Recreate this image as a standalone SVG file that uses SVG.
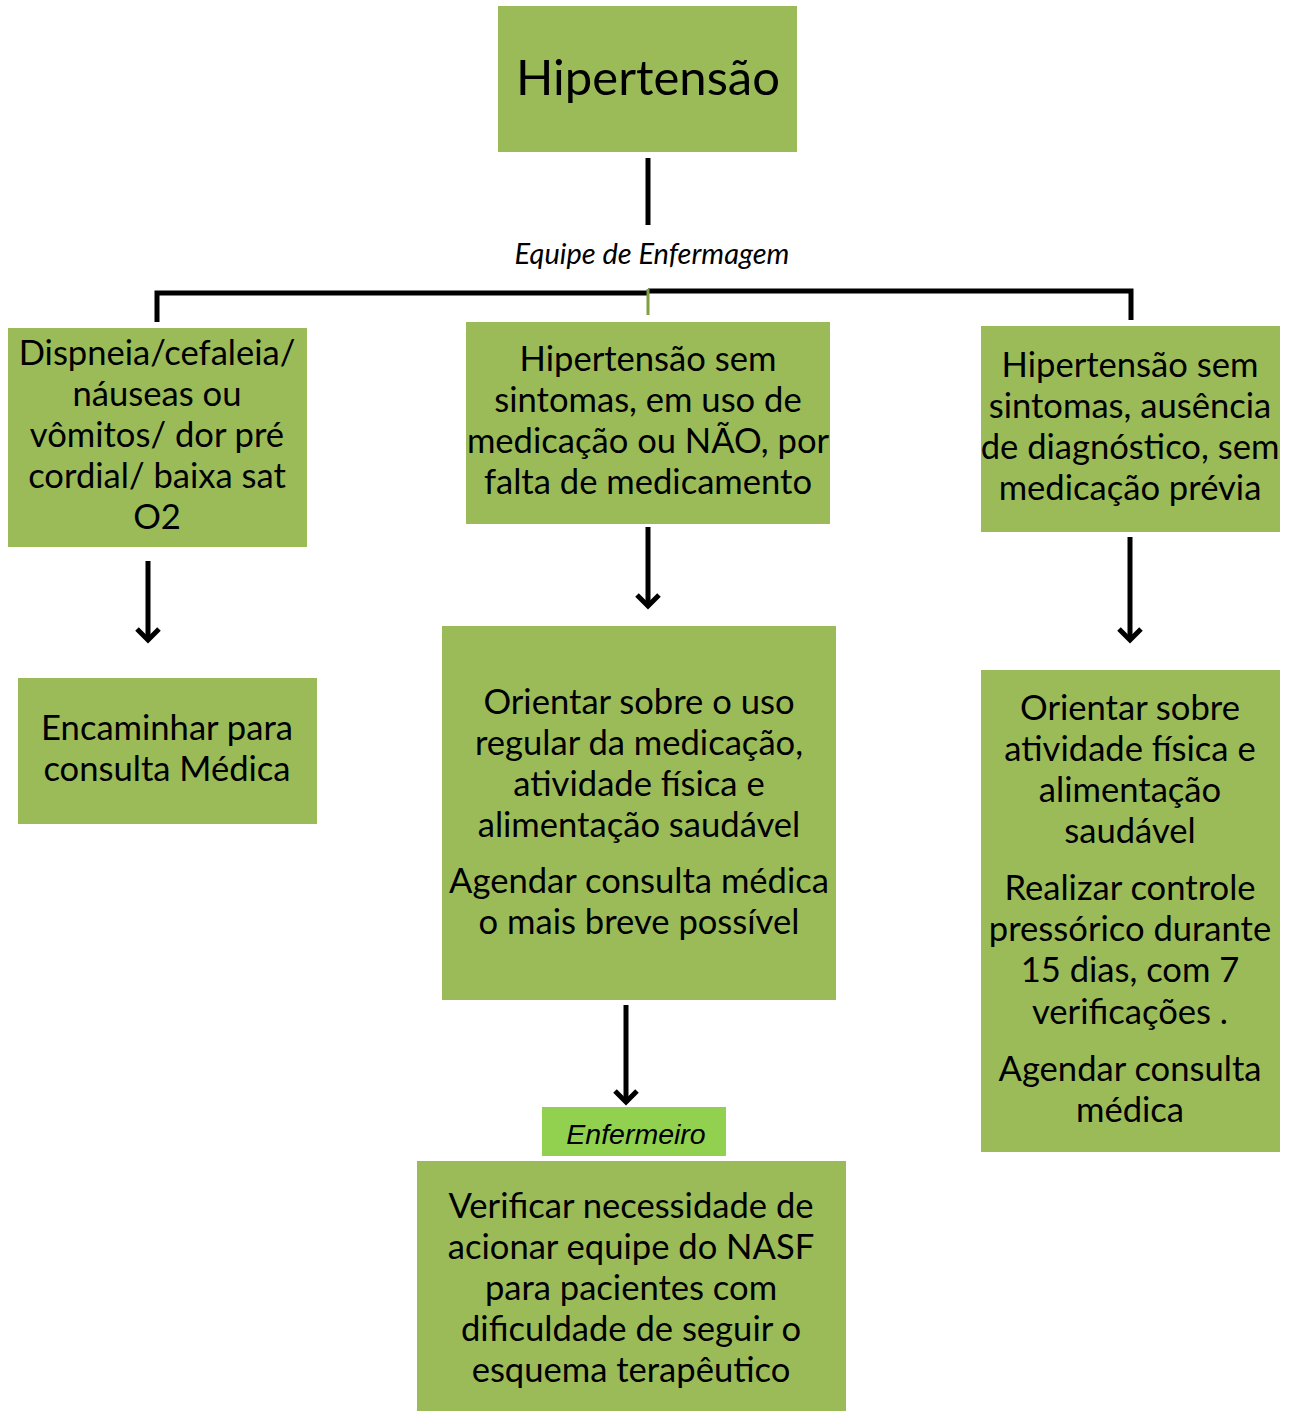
<svg xmlns="http://www.w3.org/2000/svg" width="1293" height="1411" viewBox="0 0 1293 1411">
<style>
.box{fill:#9BBB59}
.t{font-family:Lato,"Noto Sans",sans-serif;font-size:34.6px;fill:#000;text-anchor:middle}
.c{stroke:#000;stroke-width:5;fill:none}
</style>
<defs>
<marker id="a" viewBox="-14 -14 28 28" refX="0" refY="0" markerWidth="28" markerHeight="28" markerUnits="userSpaceOnUse" orient="0">
<path d="M-11,-11 L0,0 L11,-11" fill="none" stroke="#000" stroke-width="5"/>
</marker>
</defs>
<rect width="1293" height="1411" fill="#fff"/>
<g id="connectors">
<line class="c" x1="648" y1="158" x2="648" y2="225"/>
<text x="652" y="264" style="font-family:Lato,sans-serif;font-style:italic;font-size:29px;text-anchor:middle">Equipe de Enfermagem</text>
<path class="c" d="M157,322 V293 H648"/>
<path class="c" d="M648,291 H1131 V320"/>
<line x1="648" y1="289" x2="648" y2="315" stroke="#7FA040" stroke-width="3"/>
<line class="c" x1="148" y1="561" x2="148" y2="640" marker-end="url(#a)"/>
<line class="c" x1="648" y1="527" x2="648" y2="606" marker-end="url(#a)"/>
<line class="c" x1="1130" y1="537" x2="1130" y2="640" marker-end="url(#a)"/>
<line class="c" x1="626" y1="1005" x2="626" y2="1102" marker-end="url(#a)"/>
</g>
<g id="n-top">
<rect class="box" x="498" y="6" width="299" height="146"/>
<text class="t" x="648" y="95" style="font-size:49px">Hipertensão</text>
</g>
<g id="n-l1">
<rect class="box" x="8" y="328" width="299" height="219"/>
<text class="t" x="157" y="365">Dispneia/cefaleia/</text>
<text class="t" x="157" y="406">náuseas ou</text>
<text class="t" x="157" y="447">vômitos/ dor pré</text>
<text class="t" x="157" y="488">cordial/ baixa sat</text>
<text class="t" x="157" y="529">O2</text>
</g>
<g id="n-m1">
<rect class="box" x="466" y="322" width="364" height="202"/>
<text class="t" x="648" y="371">Hipertensão sem</text>
<text class="t" x="648" y="412">sintomas, em uso de</text>
<text class="t" x="648" y="453">medicação ou NÃO, por</text>
<text class="t" x="648" y="494">falta de medicamento</text>
</g>
<g id="n-r1">
<rect class="box" x="981" y="326" width="299" height="206"/>
<text class="t" x="1130" y="377">Hipertensão sem</text>
<text class="t" x="1130" y="418">sintomas, ausência</text>
<text class="t" x="1130" y="459">de diagnóstico, sem</text>
<text class="t" x="1130" y="500">medicação prévia</text>
</g>
<g id="n-l2">
<rect class="box" x="18" y="678" width="299" height="146"/>
<text class="t" x="167" y="740">Encaminhar para</text>
<text class="t" x="167" y="781">consulta Médica</text>
</g>
<g id="n-m2">
<rect class="box" x="442" y="626" width="394" height="374"/>
<text class="t" x="639" y="714">Orientar sobre o uso</text>
<text class="t" x="639" y="755">regular da medicação,</text>
<text class="t" x="639" y="796">atividade física e</text>
<text class="t" x="639" y="837">alimentação saudável</text>
<text class="t" x="639" y="893">Agendar consulta médica</text>
<text class="t" x="639" y="934">o mais breve possível</text>
</g>
<g id="n-r2">
<rect class="box" x="981" y="670" width="299" height="482"/>
<text class="t" x="1130" y="720">Orientar sobre</text>
<text class="t" x="1130" y="761">atividade física e</text>
<text class="t" x="1130" y="802">alimentação</text>
<text class="t" x="1130" y="843">saudável</text>
<text class="t" x="1130" y="900">Realizar controle</text>
<text class="t" x="1130" y="941">pressórico durante</text>
<text class="t" x="1130" y="982">15 dias, com 7</text>
<text class="t" x="1130" y="1024">verificações .</text>
<text class="t" x="1130" y="1081">Agendar consulta</text>
<text class="t" x="1130" y="1122">médica</text>
</g>
<g id="n-enf">
<rect x="542" y="1107" width="184" height="49" fill="#92D050"/>
<text x="636" y="1144" style="font-family:'Liberation Sans',Arial,sans-serif;font-style:italic;font-size:28.5px;text-anchor:middle">Enfermeiro</text>
</g>
<g id="n-m3">
<rect class="box" x="417" y="1161" width="429" height="250"/>
<text class="t" x="631" y="1218">Verificar necessidade de</text>
<text class="t" x="631" y="1259">acionar equipe do NASF</text>
<text class="t" x="631" y="1300">para pacientes com</text>
<text class="t" x="631" y="1341">dificuldade de seguir o</text>
<text class="t" x="631" y="1382">esquema terapêutico</text>
</g>
</svg>
